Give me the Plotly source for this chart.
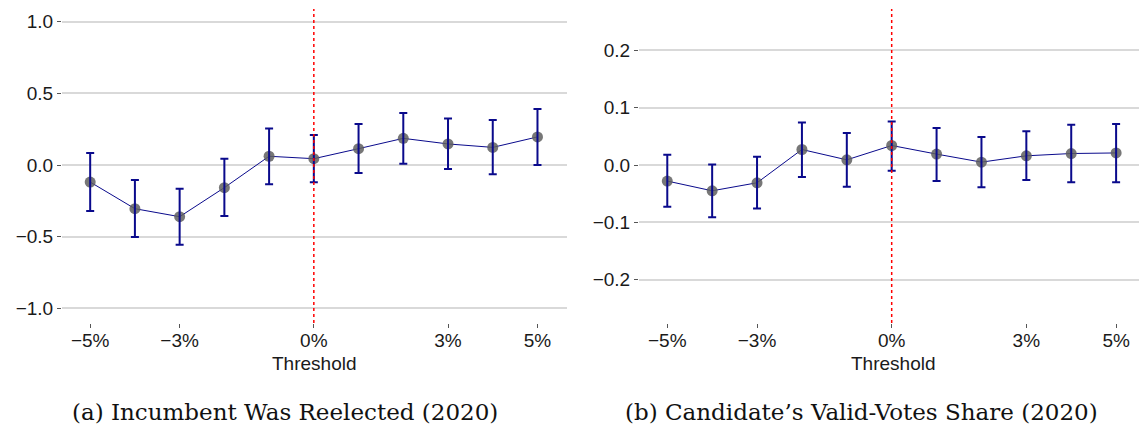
import plotly.graph_objects as go

thresholds = [-5, -4, -3, -2, -1, 0, 1, 2, 3, 4, 5]

# Panel (a): Incumbent Was Reelected (2020)
est_a = [-0.119, -0.305, -0.361, -0.158, 0.061, 0.044, 0.114, 0.186, 0.147, 0.123, 0.196]
lo_a = [-0.321, -0.503, -0.556, -0.356, -0.135, -0.121, -0.056, 0.009, -0.028, -0.065, 0.000]
hi_a = [0.084, -0.105, -0.165, 0.044, 0.254, 0.210, 0.286, 0.363, 0.324, 0.314, 0.391]

# Panel (b): Candidate's Valid-Votes Share (2020)
est_b = [-0.028, -0.045, -0.031, 0.027, 0.009, 0.034, 0.019, 0.005, 0.016, 0.020, 0.021]
lo_b = [-0.073, -0.091, -0.076, -0.021, -0.038, -0.010, -0.028, -0.039, -0.026, -0.030, -0.030]
hi_b = [0.018, 0.001, 0.0145, 0.074, 0.056, 0.076, 0.0645, 0.049, 0.059, 0.070, 0.0715]

x_tickvals = [-5, -3, 0, 3, 5]
x_ticktext = ["\u22125%", "\u22123%", "0%", "3%", "5%"]
y_ticks_a = [-1.0, -0.5, 0.0, 0.5, 1.0]
y_ticks_b = [-0.2, -0.1, 0.0, 0.1, 0.2]

captions = ["(a) Incumbent Was Reelected (2020)", "(b) Candidate\u2019s Valid-Votes Share (2020)"]
x_title = "Threshold"

W, H = 1139, 430
NAVY = "#0a0a8c"
POINT = "rgba(95,95,95,0.85)"
SANS = "Liberation Sans, Arial, sans-serif"
SERIF = "DejaVu Serif, serif"

fig = go.Figure()

panels = [
    dict(est=est_a, lo=lo_a, hi=hi_a, xa="x", ya="y"),
    dict(est=est_b, lo=lo_b, hi=hi_b, xa="x2", ya="y2"),
]

for p in panels:
    up = [h - e for h, e in zip(p["hi"], p["est"])]
    dn = [e - l for e, l in zip(p["est"], p["lo"])]
    fig.add_trace(go.Scatter(
        x=thresholds, y=p["est"], mode="lines+markers",
        line=dict(color=NAVY, width=1),
        marker=dict(color=POINT, size=11),
        xaxis=p["xa"], yaxis=p["ya"], showlegend=False, hoverinfo="skip",
    ))
    fig.add_trace(go.Scatter(
        x=thresholds, y=p["est"], mode="markers",
        marker=dict(size=0.1, color="rgba(0,0,0,0)"),
        error_y=dict(type="data", symmetric=False, array=up, arrayminus=dn,
                     color=NAVY, thickness=2, width=4),
        xaxis=p["xa"], yaxis=p["ya"], showlegend=False, hoverinfo="skip",
    ))

ydom = [(H - 323) / H, (H - 9) / H]

xcommon = dict(
    tickvals=x_tickvals, ticktext=x_ticktext, showgrid=False, zeroline=False,
    showline=False, ticks="outside", ticklen=4, tickwidth=1, tickcolor="#555555",
    ticklabelstandoff=-4,
    tickfont=dict(family=SANS, size=19, color="#1a1a1a"),
)
ycommon = dict(
    showgrid=True, gridcolor="#d9d9d9", gridwidth=1.5, zeroline=False,
    showline=False, ticks="outside", ticklen=4, tickwidth=1, tickcolor="#555555",
    tickfont=dict(family=SANS, size=19, color="#1a1a1a"),
)

fig.update_layout(
    width=W, height=H,
    margin=dict(l=0, r=0, t=0, b=0),
    paper_bgcolor="white", plot_bgcolor="white",
    xaxis=dict(domain=[62 / W, 567 / W], range=[-5.63, 5.66], anchor="y", **xcommon),
    yaxis=dict(domain=ydom, range=[-1.103, 1.089], anchor="x",
               tickvals=y_ticks_a, ticktext=["\u22121.0", "\u22120.5", "0.0", "0.5", "1.0"], **ycommon),
    xaxis2=dict(domain=[639 / W, 1.0], range=[-5.63, 5.51], anchor="y2", **xcommon),
    yaxis2=dict(domain=ydom, range=[-0.2755, 0.272], anchor="x2",
                tickvals=y_ticks_b, ticktext=["\u22120.2", "\u22120.1", "0.0", "0.1", "0.2"], **ycommon),
)

for xa, ya in [("x", "y"), ("x2", "y2")]:
    fig.add_shape(type="line", xref=f"{xa} domain", yref=ya, x0=0, x1=1, y0=0, y1=0,
                  line=dict(color="#ff0000", width=2), layer="below")
    fig.add_shape(type="line", xref=xa, yref=f"{ya} domain", x0=0, x1=0, y0=0, y1=1,
                  line=dict(color="#ff0000", width=1.5, dash="dot"), layer="above")

for cx, cap_x, cap in [(314.5 / W, 284.5 / W, captions[0]), (894 / W, 861 / W, captions[1])]:
    fig.add_annotation(x=cx, y=(H - 363) / H, xref="paper", yref="paper", text=x_title,
                       showarrow=False, xanchor="center", yanchor="middle",
                       font=dict(family=SANS, size=19, color="#1a1a1a"))
    fig.add_annotation(x=cap_x, y=(H - 412) / H, xref="paper", yref="paper", text=cap,
                       showarrow=False, xanchor="center", yanchor="middle",
                       font=dict(family=SERIF, size=23, color="#111111"))

fig.write_html("out.html")
